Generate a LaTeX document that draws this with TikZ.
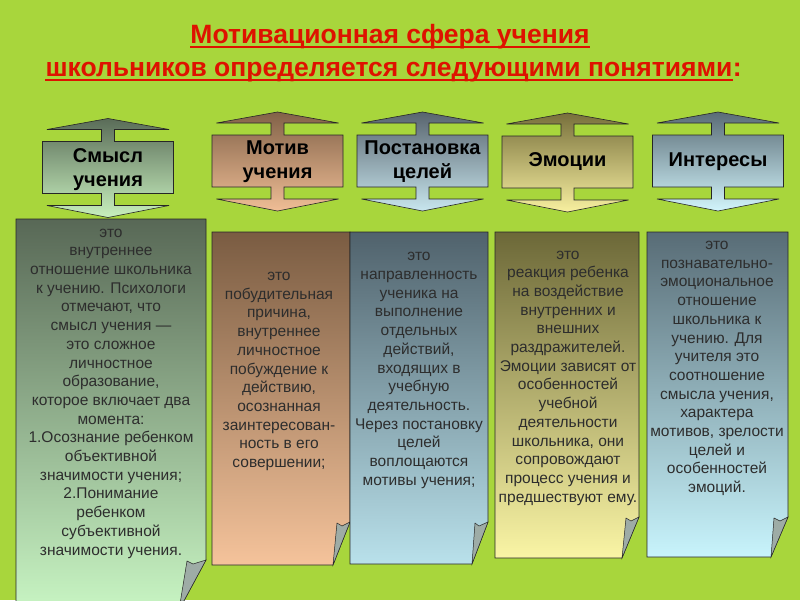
\documentclass[tikz,border=0pt]{standalone}
\usepackage{fontspec}
\setmainfont{Liberation Sans}

\definecolor{bg}{RGB}{168,214,60}
\definecolor{titlered}{RGB}{222,18,0}
\definecolor{bodygrey}{RGB}{45,45,45}
\definecolor{foldgrey}{RGB}{158,172,166}
% header colours
\definecolor{smyslTop}{RGB}{90,108,88}
\definecolor{smyslBot}{RGB}{200,240,190}
\definecolor{motivTop}{RGB}{130,98,72}
\definecolor{motivBot}{RGB}{240,190,150}
\definecolor{celiTop}{RGB}{88,100,110}
\definecolor{celiBot}{RGB}{200,230,238}
\definecolor{emocTop}{RGB}{120,112,60}
\definecolor{emocBot}{RGB}{248,240,160}
\definecolor{interTop}{RGB}{90,108,118}
\definecolor{interBot}{RGB}{210,245,252}
% note colours
\definecolor{smyslNoteTop}{RGB}{88,104,86}
\definecolor{smyslNoteBot}{RGB}{200,245,195}
\definecolor{motivNoteTop}{RGB}{122,92,66}
\definecolor{motivNoteBot}{RGB}{245,195,155}
\definecolor{celiNoteTop}{RGB}{80,98,108}
\definecolor{celiNoteBot}{RGB}{185,225,235}
\definecolor{emocNoteTop}{RGB}{108,104,56}
\definecolor{emocNoteBot}{RGB}{250,245,165}
\definecolor{interNoteTop}{RGB}{88,108,118}
\definecolor{interNoteBot}{RGB}{200,244,252}

\begin{document}
\begin{tikzpicture}[x=1pt, y=1pt,
        header/.style = {draw=black!85,
            line width=0.6pt
        },
        note/.style = {draw=black!85,
            line width=0.6pt
        },
        fold/.style = {draw=black!85,
            line width=0.5pt,
            fill=foldgrey
        },
        headtext/.style = {font=\bfseries\fontsize{20}{24}\selectfont,
            align=center
        },
        bodytext/.style = {font=\fontsize{15.5}{18.7}\selectfont,
            align=center,
            text=bodygrey
        },
        titletext/.style = {font=\bfseries\fontsize{26.5}{30}\selectfont,
            text=titlered,
            inner sep=0pt
        },
        underline/.style = {titlered,
            line width=2pt
        }]

    % Background
    \fill[bg] (0,0) rectangle (800,-600);
    \useasboundingbox (0,0) rectangle (800,-600);

    % Title
    \node[titletext, anchor=base] (title1) at (390,-43) {Мотивационная сфера учения};
    \node[titletext, anchor=base] (title2) at (389,-76) {школьников определяется следующими понятиями};
    \node[titletext, anchor=base west] (colon) at (title2.base east) {:};
    \draw[underline] ([yshift=-4pt]title1.base west) -- ([yshift=-4pt]title1.base east);
    \draw[underline] ([yshift=-4pt]title2.base west) -- ([yshift=-4pt]title2.base east);

    % Note for Smysl
    \draw[note, top color=smyslNoteTop, bottom color=smyslNoteBot]
        (16,-219) -- (206,-219) -- (206,-560) -- (179,-610) -- (16,-610) -- cycle;
    \draw[fold] (187,-561) -- (193,-564) -- (206,-560) -- (179,-610) -- cycle;

    % Note for Motiv
    \draw[note, top color=motivNoteTop, bottom color=motivNoteBot]
        (212,-232) -- (350,-232) -- (350,-522) -- (333,-565) -- (212,-565) -- cycle;
    \draw[fold] (337,-523) -- (342,-526) -- (350,-522) -- (333,-565) -- cycle;

    % Note for Celi
    \draw[note, top color=celiNoteTop, bottom color=celiNoteBot]
        (350,-232) -- (488,-232) -- (488,-522) -- (472,-564) -- (350,-564) -- cycle;
    \draw[fold] (475,-523) -- (479,-526) -- (488,-522) -- (472,-564) -- cycle;

    % Note for Emocii
    \draw[note, top color=emocNoteTop, bottom color=emocNoteBot]
        (495,-232) -- (639,-232) -- (639,-517) -- (622,-558) -- (495,-558) -- cycle;
    \draw[fold] (626,-518) -- (631,-521) -- (639,-517) -- (622,-558) -- cycle;

    % Note for Interesy
    \draw[note, top color=interNoteTop, bottom color=interNoteBot]
        (647,-232) -- (788,-232) -- (788,-517) -- (771,-557) -- (647,-557) -- cycle;
    \draw[fold] (774,-518) -- (780,-521) -- (788,-517) -- (771,-557) -- cycle;

    % Header Smysl
    \draw[header, top color=smyslTop, bottom color=smyslBot, shift={(108,-167.5)}]
        (0,49) -- (61,38) -- (6.5,38) -- (6.5,26) -- (65.5,26) -- (65.5,-26)
        -- (6.5,-26) -- (6.5,-38) -- (61,-38) -- (0,-50) -- (-61,-38) -- (-6.5,-38)
        -- (-6.5,-26) -- (-65.5,-26) -- (-65.5,26) -- (-6.5,26) -- (-6.5,38) -- (-61,38) -- cycle;
    \node[headtext] (smysl) at (108,-170) {Смысл\\учения};

    % Header Motiv
    \draw[header, top color=motivTop, bottom color=motivBot, shift={(277.5,-161)}]
        (0,49) -- (61,38) -- (6.5,38) -- (6.5,26) -- (65.5,26) -- (65.5,-26)
        -- (6.5,-26) -- (6.5,-38) -- (61,-38) -- (0,-50) -- (-61,-38) -- (-6.5,-38)
        -- (-6.5,-26) -- (-65.5,-26) -- (-65.5,26) -- (-6.5,26) -- (-6.5,38) -- (-61,38) -- cycle;
    \node[headtext] (motiv) at (277.5,-162) {Мотив\\учения};

    % Header Celi
    \draw[header, top color=celiTop, bottom color=celiBot, shift={(422.5,-161)}]
        (0,49) -- (61,38) -- (6.5,38) -- (6.5,26) -- (65.5,26) -- (65.5,-26)
        -- (6.5,-26) -- (6.5,-38) -- (61,-38) -- (0,-50) -- (-61,-38) -- (-6.5,-38)
        -- (-6.5,-26) -- (-65.5,-26) -- (-65.5,26) -- (-6.5,26) -- (-6.5,38) -- (-61,38) -- cycle;
    \node[headtext] (celi) at (422.5,-162) {Постановка\\целей};

    % Header Emocii
    \draw[header, top color=emocTop, bottom color=emocBot, shift={(567.5,-162)}]
        (0,49) -- (61,38) -- (6.5,38) -- (6.5,26) -- (65.5,26) -- (65.5,-26)
        -- (6.5,-26) -- (6.5,-38) -- (61,-38) -- (0,-50) -- (-61,-38) -- (-6.5,-38)
        -- (-6.5,-26) -- (-65.5,-26) -- (-65.5,26) -- (-6.5,26) -- (-6.5,38) -- (-61,38) -- cycle;
    \node[headtext] (emocii) at (567.5,-162) {Эмоции};

    % Header Interesy
    \draw[header, top color=interTop, bottom color=interBot, shift={(718,-161)}]
        (0,49) -- (61,38) -- (6.5,38) -- (6.5,26) -- (65.5,26) -- (65.5,-26)
        -- (6.5,-26) -- (6.5,-38) -- (61,-38) -- (0,-50) -- (-61,-38) -- (-6.5,-38)
        -- (-6.5,-26) -- (-65.5,-26) -- (-65.5,26) -- (-6.5,26) -- (-6.5,38) -- (-61,38) -- cycle;
    \node[headtext] (interesy) at (718,-162) {Интересы};

    % Note texts
    \node[bodytext] (smyslText) at (111,-393.5) {это\\внутреннее\\отношение школьника\\к учению. Психологи\\отмечают, что\\смысл учения —\\это сложное\\личностное\\образование,\\которое включает два\\момента:\\1.Осознание ребенком\\объективной\\значимости учения;\\2.Понимание\\ребенком\\субъективной\\значимости учения.};

    \node[bodytext] (motivText) at (279,-371.5) {это\\побудительная\\причина,\\внутреннее\\личностное\\побуждение к\\действию,\\осознанная\\заинтересован-\\ность  в его\\совершении;};

    \node[bodytext] (celiText) at (419,-370.5) {это\\направленность\\ученика на\\выполнение\\отдельных\\действий,\\входящих  в\\учебную\\деятельность.\\Через постановку\\целей\\воплощаются\\мотивы  учения;};

    \node[bodytext] (emocText) at (568,-378) {это\\реакция ребенка\\на воздействие\\внутренних и\\внешних\\раздражителей.\\Эмоции зависят от\\особенностей\\учебной\\деятельности\\школьника, они\\сопровождают\\процесс учения и\\предшествуют ему.};

    \node[bodytext] (interText) at (717,-368.5) {это\\познавательно-\\эмоциональное\\отношение\\школьника к\\учению. Для\\учителя это\\соотношение\\смысла учения,\\характера\\мотивов, зрелости\\целей и\\особенностей\\эмоций.};

\end{tikzpicture}
\end{document}
